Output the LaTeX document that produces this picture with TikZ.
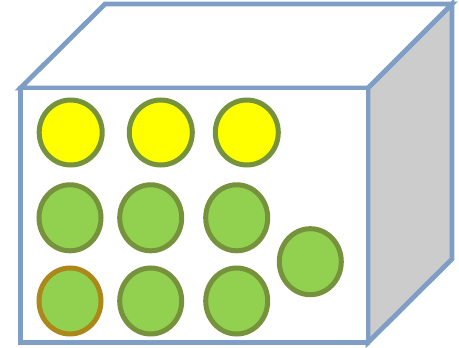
\documentclass[tikz,border=0pt]{standalone}
\usepackage{tikz}
\usetikzlibrary{shapes.geometric,positioning}
\definecolor{edgeblue}{RGB}{126,158,198}
\definecolor{sidegray}{RGB}{204,204,204}
\definecolor{ballgreen}{RGB}{146,208,80}
\definecolor{ballyellow}{RGB}{255,255,0}
\definecolor{rimolive}{RGB}{118,146,60}
\definecolor{rimbrown}{RGB}{172,136,26}
\tikzset{
  boxface/.style={draw=edgeblue,line width=4.8pt,line join=miter},
  ballbase/.style={ellipse,line width=5pt,draw=rimolive,inner sep=0pt,minimum width=62pt,minimum height=66pt},
  yball/.style={ballbase,fill=ballyellow,minimum width=63pt,minimum height=65pt},
  gball/.style={ballbase,fill=ballgreen}
}

\begin{document}
\begin{tikzpicture}[x=1pt,y=-1pt]
  \useasboundingbox (0,0) rectangle (459,348);
  % box corners
  \coordinate (fl) at (20.5,88);
  \coordinate (fr) at (368,88);
  \coordinate (br) at (368,342.5);
  \coordinate (bl) at (20.5,342.5);
  \coordinate (tl) at (105,4);
  \coordinate (tr) at (452,4);
  \coordinate (rb) at (452,259);
  \fill[white] (fl) -- (tl) -- (tr) -- (fr) -- cycle;
  \filldraw[boxface,fill=sidegray] (fr) -- (tr) -- (rb) -- (br) -- cycle;
  \filldraw[boxface,fill=white] (fl) -- (tl) -- (tr) -- (fr) -- cycle;
  \filldraw[boxface,fill=white] (fl) rectangle (br);
  % balls
  \foreach \n/\x in {y1/70.7,y2/160.8,y3/246.8}
    \node[yball] (\n) at (\x,132.5) {};
  \foreach \n/\x in {g1/70,g2/150.7,g3/236.7}
    \node[gball] (\n) at (\x,217.8) {};
  \node[gball,draw=rimbrown] (h1) at (70,301) {};
  \foreach \n/\x in {h2/150.7,h3/236.7}
    \node[gball] (\n) at (\x,301) {};
  \node[gball] (g4) at (310.3,261.7) {};
\end{tikzpicture}
\end{document}
